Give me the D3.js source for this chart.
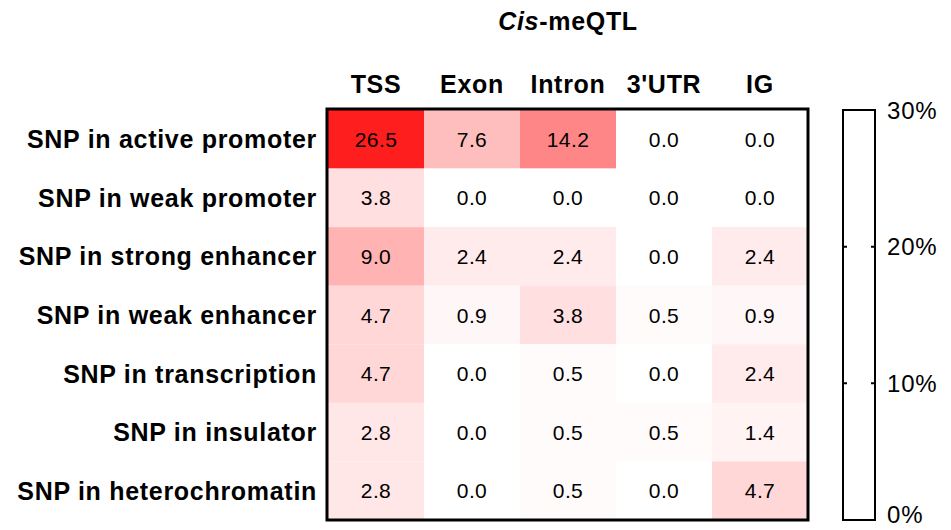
<!DOCTYPE html>
<html>
<head>
<meta charset="utf-8">
<script src="https://cdn.jsdelivr.net/npm/d3@7"></script>
<style>
  body { margin: 0; background: #fff; }
  text { font-family: "Liberation Sans", Arial, sans-serif; }
</style>
</head>
<body>
<div class="chart"></div>
<script>

// Data
var columns = ["TSS", "Exon", "Intron", "3'UTR", "IG"];
var rows = ["SNP in active promoter", "SNP in weak promoter", "SNP in strong enhancer",
    "SNP in weak enhancer", "SNP in transcription", "SNP in insulator", "SNP in heterochromatin"];

var tss = [26.5, 3.8, 9.0, 4.7, 4.7, 2.8, 2.8];
var exon = [7.6, 0.0, 2.4, 0.9, 0.0, 0.0, 0.0];
var intron = [14.2, 0.0, 2.4, 3.8, 0.5, 0.5, 0.5];
var utr3 = [0.0, 0.0, 0.0, 0.5, 0.0, 0.5, 0.0];
var ig = [0.0, 0.0, 2.4, 0.9, 2.4, 1.4, 4.7];

var legendTicks = [0, 10, 20, 30];

var width = 951, height = 530;
var margin = {top: 110, left: 328, right: 143, bottom: 10};

var series = [tss, exon, intron, utr3, ig];

// Flatten into cells
var cells = [];
series.forEach(function(vals, ci) {
    vals.forEach(function(v, ri) {
        cells.push({col: columns[ci], row: rows[ri], value: v});
    });
});

var svg = d3.select(".chart")
    .append("svg")
        .attr("width", width)
        .attr("height", height);

var x = d3.scaleBand()
    .domain(columns)
    .range([margin.left, width - margin.right]);

var y = d3.scaleBand()
    .domain(rows)
    .range([margin.top, height - margin.bottom]);

var color = d3.scaleLinear()
    .domain([0, 30])
    .range(["#ffffff", "#ff0000"]);

// Cells
svg.append("g")
    .selectAll("rect")
    .data(cells)
    .enter()
    .append("rect")
    .attr("x", function(d) { return x(d.col); })
    .attr("y", function(d) { return y(d.row); })
    .attr("width", x.bandwidth())
    .attr("height", y.bandwidth())
    .style("fill", function(d) { return color(d.value); });

// Cell values
svg.append("g")
    .selectAll("text")
    .data(cells)
    .enter()
    .append("text")
    .attr("x", function(d) { return x(d.col) + x.bandwidth() / 2; })
    .attr("y", function(d) { return y(d.row) + y.bandwidth() / 2; })
    .attr("text-anchor", "middle")
    .attr("dy", "0.36em")
    .style("font-size", "21px")
    .style("letter-spacing", "0.4px")
    .text(function(d) { return d.value.toFixed(1); });

// Frame
svg.append("rect")
    .attr("x", margin.left - 1)
    .attr("y", margin.top - 1)
    .attr("width", width - margin.right - margin.left + 1)
    .attr("height", height - margin.bottom - margin.top + 1)
    .style("fill", "none")
    .style("stroke", "#000")
    .style("stroke-width", 3);

// Row labels
svg.append("g")
    .selectAll("text")
    .data(rows)
    .enter()
    .append("text")
    .attr("x", margin.left - 11)
    .attr("y", function(d) { return y(d) + y.bandwidth() / 2; })
    .attr("dy", "0.36em")
    .attr("text-anchor", "end")
    .style("font-size", "25px")
    .style("letter-spacing", "0.7px")
    .style("font-weight", "bold")
    .text(function(d) { return d; });

// Column labels
svg.append("g")
    .selectAll("text")
    .data(columns)
    .enter()
    .append("text")
    .attr("x", function(d) { return x(d) + x.bandwidth() / 2; })
    .attr("y", 93)
    .attr("text-anchor", "middle")
    .style("font-size", "25px")
    .style("letter-spacing", "0.7px")
    .style("font-weight", "bold")
    .text(function(d) { return d; });

// Title
var title = svg.append("text")
    .attr("x", 568)
    .attr("y", 30)
    .attr("text-anchor", "middle")
    .style("font-size", "25px")
    .style("letter-spacing", "0.7px")
    .style("font-weight", "bold");
title.append("tspan").style("font-style", "italic").text("Cis");
title.append("tspan").text("-meQTL");

// Legend bar
var legX = 843, legW = 32;
var ly = d3.scaleLinear()
    .domain([0, 30])
    .range([height - margin.bottom, margin.top]);

svg.append("rect")
    .attr("x", legX)
    .attr("y", ly(30))
    .attr("width", legW)
    .attr("height", ly(0) - ly(30))
    .style("fill", "#fff")
    .style("stroke", "#000")
    .style("stroke-width", 2);

var inner = legendTicks.filter(function(t) { return t > 0 && t < 30; });
svg.append("g")
    .selectAll("path")
    .data(inner)
    .enter()
    .append("path")
    .attr("d", function(d) {
        var yy = ly(d);
        return "M" + legX + "," + yy + "h4M" + (legX + legW) + "," + yy + "h-4";
    })
    .style("stroke", "#000")
    .style("stroke-width", 2);

svg.append("g")
    .selectAll("text")
    .data(legendTicks)
    .enter()
    .append("text")
    .attr("x", legX + legW + 12)
    .attr("y", function(d) { return ly(d); })
    .attr("dy", function(d) { return d === 0 ? "0.12em" : "0.36em"; })
    .style("font-size", "24px")
    .style("letter-spacing", "0.8px")
    .text(function(d) { return d + "%"; });

</script>
</body>
</html>
